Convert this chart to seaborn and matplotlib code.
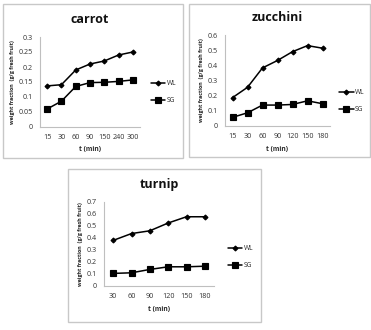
import matplotlib.pyplot as plt
import matplotlib.patches as patches
import pandas as pd
import seaborn as sns

# carrot data
carrot_t = ["15", "30", "60", "90", "150", "240", "300"]
carrot_wl = [0.137, 0.141, 0.190, 0.210, 0.220, 0.240, 0.250]
carrot_sg = [0.060, 0.086, 0.135, 0.148, 0.149, 0.152, 0.157]

# zucchini data
zucchini_t = ["15", "30", "60", "90", "120", "150", "180"]
zucchini_wl = [0.187, 0.255, 0.383, 0.432, 0.490, 0.530, 0.513]
zucchini_sg = [0.057, 0.087, 0.138, 0.138, 0.142, 0.166, 0.147]

# turnip data
turnip_t = ["30", "60", "90", "120", "150", "180"]
turnip_wl = [0.380, 0.437, 0.460, 0.525, 0.577, 0.577]
turnip_sg = [0.105, 0.110, 0.138, 0.160, 0.160, 0.165]

sns.set_style("white")
plt.rcParams["font.family"] = ["Open Sans", "DejaVu Sans"]

fig = plt.figure(figsize=(3.71, 3.30), dpi=100)
W, H = 371, 330


def px_axes(left, right, top, bottom):
    return fig.add_axes([left / W, 1 - bottom / H, (right - left) / W, (bottom - top) / H])


def px_box(left, right, top, bottom):
    fig.patches.append(
        patches.Rectangle(
            (left / W, 1 - bottom / H), (right - left) / W, (bottom - top) / H,
            transform=fig.transFigure, fill=False, edgecolor="#c8c8c8", linewidth=1.0,
        )
    )


def panel(ax, name, t, wl, sg, ymax, yticks, legend_xy):
    df = pd.DataFrame({"t": t, "WL": wl, "SG": sg})
    sns.pointplot(data=df, x="t", y="WL", order=t, color="black", markers="D",
                  markersize=2.5, linewidth=1.1, ax=ax)
    sns.pointplot(data=df, x="t", y="SG", order=t, color="black", markers="s",
                  markersize=4, linewidth=1.1, ax=ax)
    ax.set_xlim(-0.5, len(t) - 0.5)
    ax.set_ylim(0, ymax)
    ax.set_yticks(yticks)
    ax.set_yticklabels([f"{v:g}" for v in yticks])
    ax.tick_params(axis="both", length=0, labelsize=5.2, pad=5, colors="#333333")
    for s in ["top", "right"]:
        ax.spines[s].set_visible(False)
    for s in ["left", "bottom"]:
        ax.spines[s].set_color("#bfbfbf")
        ax.spines[s].set_linewidth(0.8)
    ax.set_title(name, fontsize=9, fontweight="bold", pad=10, color="#111111")
    ax.set_xlabel("t (min)", fontsize=4.8, fontweight="bold", labelpad=4)
    ax.set_ylabel("weight fraction  (g/g fresh fruit)", fontsize=3.9,
                  fontweight="bold", labelpad=3)
    lines = [l for l in ax.lines if len(l.get_xdata()) == len(t)]
    ax.legend(lines, ["WL", "SG"], loc="center left", bbox_to_anchor=legend_xy,
              frameon=False, fontsize=4.8, handlelength=2.2, handletextpad=0.2,
              labelspacing=1.5, borderaxespad=0)


ax1 = px_axes(40, 140, 37, 127)
panel(ax1, "carrot", carrot_t, carrot_wl, carrot_sg, 0.3,
      [0, 0.05, 0.1, 0.15, 0.2, 0.25, 0.3], (1.08, 0.39))

ax2 = px_axes(225, 330, 35, 126)
panel(ax2, "zucchini", zucchini_t, zucchini_wl, zucchini_sg, 0.6,
      [0, 0.1, 0.2, 0.3, 0.4, 0.5, 0.6], (1.06, 0.27))

ax3 = px_axes(104, 214, 202, 286)
panel(ax3, "turnip", turnip_t, turnip_wl, turnip_sg, 0.7,
      [0, 0.1, 0.2, 0.3, 0.4, 0.5, 0.6, 0.7], (1.1, 0.345))

px_box(3, 183, 4, 158)
px_box(189, 370, 4, 157)
px_box(68, 261, 169, 322)

fig.savefig("out.png", dpi=100)
